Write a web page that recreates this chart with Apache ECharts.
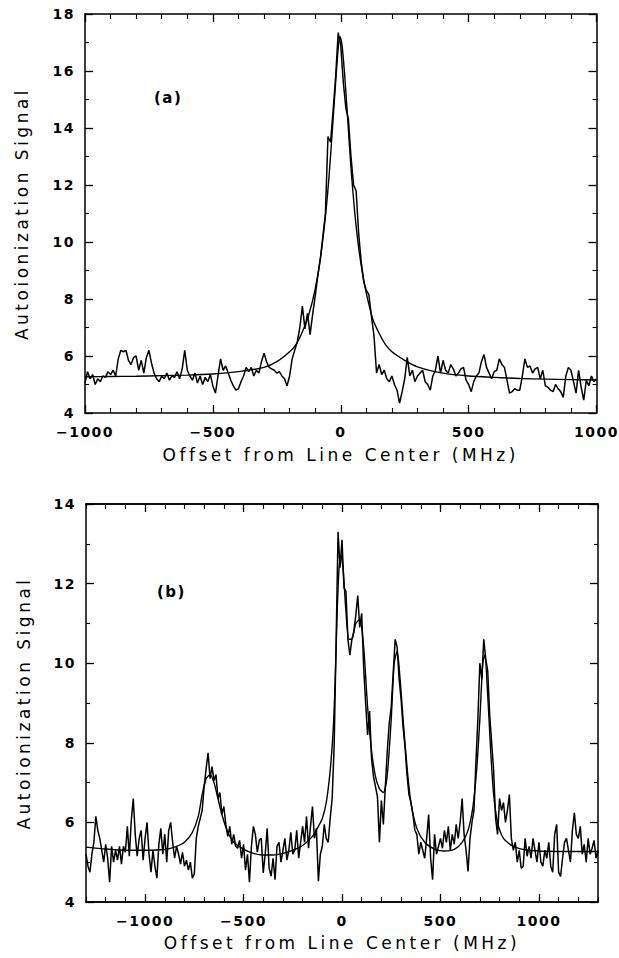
<!DOCTYPE html>
<html>
<head>
<meta charset="utf-8">
<script src="https://cdn.jsdelivr.net/npm/echarts@6/dist/echarts.min.js"></script>
<style>
html,body{margin:0;padding:0;background:#fff;}
#chart{width:619px;height:958px;}
#chart text{letter-spacing:3.5px;}
#chart text[style*="bold"], #chart text[font-weight="bold"]{letter-spacing:1.5px;}
</style>
</head>
<body>
<div id="chart"></div>
<script>
// ---------- Panel (a) ----------
const aXTicks = [-1000, -500, 0, 500, 1000];
const aSignal = [
[-1000,5.05],[-990,5.45],[-980,5.2],[-970,5.35],[-960,5.0],[-950,5.2],[-940,5.1],[-930,5.3],[-920,5.25],[-910,5.45],
[-900,5.35],[-890,5.5],[-880,5.3],[-870,5.9],[-860,6.2],[-850,6.15],[-840,6.2],[-830,5.85],[-820,5.7],[-810,5.95],
[-800,6.0],[-790,5.5],[-780,5.85],[-770,5.4],[-760,5.95],[-750,6.2],[-740,5.75],[-730,5.4],[-720,5.2],[-710,5.1],
[-700,5.3],[-690,5.2],[-680,5.4],[-670,5.15],[-660,5.3],[-650,5.25],[-640,5.45],[-630,5.2],[-620,5.55],[-610,6.2],
[-600,5.5],[-590,5.3],[-580,5.15],[-570,5.4],[-560,5.05],[-550,5.3],[-540,5.0],[-530,5.25],[-520,5.1],[-510,5.35],
[-500,4.95],[-490,4.7],[-480,5.3],[-470,5.9],[-460,5.5],[-450,5.65],[-440,5.4],[-430,5.15],[-420,4.95],[-410,4.8],
[-400,4.85],[-390,5.1],[-380,5.3],[-370,5.6],[-360,5.45],[-350,5.6],[-340,5.3],[-330,5.5],[-320,5.4],[-310,5.8],
[-300,6.1],[-290,5.8],[-280,5.6],[-270,5.55],[-260,5.5],[-250,5.4],[-240,5.45],[-230,5.3],[-220,5.2],[-210,4.95],
[-200,5.3],[-190,5.9],[-180,6.2],[-170,6.5],[-160,7.0],[-150,7.75],[-140,6.95],[-130,7.5],[-120,6.75],[-110,7.45],
[-100,8.1],[-90,8.8],[-80,9.4],[-70,10.2],[-60,11.0],[-50,13.7],[-40,13.5],[-30,14.6],[-20,15.8],[-10,17.35],
[0,16.9],[10,15.6],[20,14.7],[30,14.3],[40,13.0],[50,12.0],[60,11.8],[70,10.3],[80,9.3],[90,8.6],
[100,8.3],[110,8.15],[120,7.4],[130,6.7],[140,5.4],[150,5.7],[160,5.35],[170,5.5],[180,5.2],[190,5.1],
[200,5.3],[210,5.0],[220,4.8],[230,4.35],[240,4.75],[250,5.2],[260,5.95],[270,5.3],[280,5.5],[290,5.1],
[300,5.3],[310,5.4],[320,5.5],[330,5.1],[340,5.0],[350,4.8],[360,5.3],[370,5.5],[380,6.0],[390,5.4],
[400,5.85],[410,5.5],[420,5.4],[430,5.7],[440,5.55],[450,5.3],[460,5.4],[470,5.55],[480,5.6],[490,5.15],
[500,5.0],[510,4.75],[520,5.1],[530,5.3],[540,5.4],[550,5.8],[560,6.05],[570,5.6],[580,5.4],[590,5.2],
[600,5.45],[610,5.5],[620,5.9],[630,5.7],[640,5.6],[650,5.15],[660,4.7],[670,4.75],[680,4.85],[690,4.8],
[700,4.8],[710,5.3],[720,5.9],[730,5.6],[740,5.65],[750,5.4],[760,5.55],[770,5.6],[780,5.2],[790,5.5],
[800,4.95],[810,4.9],[820,4.8],[830,4.75],[840,5.0],[850,4.85],[860,4.75],[870,4.55],[880,5.3],[890,5.6],
[900,5.5],[910,5.1],[920,4.7],[930,5.5],[940,4.9],[950,4.45],[960,5.15],[970,4.95],[980,5.3],[990,5.1],
[1000,5.2]
];
const aFit = [
[-1000,5.27],[-900,5.28],[-800,5.29],[-700,5.31],[-600,5.33],[-500,5.37],[-400,5.45],[-300,5.6],[-250,5.8],
[-200,6.15],[-175,6.4],[-150,6.85],[-125,7.45],[-100,8.35],[-80,9.4],[-60,10.9],[-45,12.4],[-30,14.3],
[-20,15.6],[-10,16.8],[-3,17.2],[5,16.9],[15,15.9],[25,14.6],[40,12.6],[55,11.0],[70,9.8],[85,8.9],
[100,8.2],[125,7.3],[150,6.8],[175,6.4],[200,6.15],[250,5.85],[300,5.62],[400,5.4],[500,5.3],[600,5.25],
[700,5.21],[800,5.19],[900,5.17],[1000,5.16]
];

// ---------- Panel (b) ----------
const bXTicks = [-1000, -500, 0, 500, 1000];
const bSignal = [
[-1300,5.2],[-1290,4.9],[-1280,4.75],[-1270,5.2],[-1260,5.5],[-1250,6.15],[-1240,5.8],[-1230,5.6],[-1220,5.3],[-1210,5.0],
[-1200,5.45],[-1190,5.1],[-1180,4.5],[-1170,5.4],[-1160,5.0],[-1150,5.3],[-1140,5.05],[-1130,5.4],[-1120,4.95],[-1110,5.4],
[-1100,5.25],[-1090,5.9],[-1080,5.15],[-1070,6.05],[-1060,6.6],[-1050,5.7],[-1040,5.15],[-1030,5.6],[-1020,5.8],[-1010,5.05],
[-1000,5.6],[-990,6.0],[-980,5.2],[-970,4.75],[-960,5.3],[-950,4.9],[-940,4.6],[-930,5.45],[-920,5.85],[-910,5.2],
[-900,5.7],[-890,5.0],[-880,5.8],[-870,6.0],[-860,5.5],[-850,5.1],[-840,5.4],[-830,5.2],[-820,4.95],[-810,5.25],
[-800,4.9],[-790,5.05],[-780,4.8],[-770,5.0],[-760,4.6],[-750,4.7],[-740,5.6],[-730,5.9],[-720,6.1],[-710,6.3],
[-700,6.9],[-690,7.35],[-680,7.75],[-670,7.1],[-660,7.4],[-650,7.05],[-640,7.2],[-630,6.6],[-620,6.75],[-610,6.2],
[-600,6.4],[-590,5.95],[-580,5.65],[-570,5.9],[-560,5.45],[-550,5.7],[-540,5.4],[-530,5.35],[-520,5.55],[-510,5.1],
[-500,5.45],[-490,4.8],[-480,5.2],[-470,4.5],[-460,5.4],[-450,5.9],[-440,5.7],[-430,5.25],[-420,5.55],[-410,5.6],
[-400,4.73],[-390,5.2],[-380,5.85],[-370,4.85],[-360,4.65],[-350,5.1],[-340,4.56],[-330,5.4],[-320,5.5],[-310,5.0],
[-300,5.3],[-290,5.6],[-280,5.05],[-270,5.3],[-260,5.75],[-250,5.2],[-240,5.3],[-230,5.8],[-220,5.1],[-210,5.5],
[-200,5.9],[-190,5.5],[-180,6.15],[-170,5.35],[-160,5.9],[-150,6.4],[-140,5.6],[-130,5.85],[-120,4.52],[-110,5.2],
[-100,5.4],[-90,5.95],[-80,5.6],[-70,5.5],[-60,6.1],[-50,6.6],[-40,7.9],[-30,10.5],[-20,13.3],[-10,12.4],
[0,13.1],[10,11.9],[20,11.8],[30,10.6],[40,10.2],[50,10.6],[60,10.8],[70,11.2],[80,11.7],[90,10.9],
[100,11.25],[110,9.9],[120,9.0],[130,8.2],[140,8.8],[150,7.6],[160,7.15],[170,6.9],[180,6.65],[190,5.5],
[200,6.55],[210,5.95],[220,6.9],[230,7.8],[240,8.5],[250,8.9],[260,9.75],[270,10.6],[280,10.4],[290,9.6],
[300,9.1],[310,8.4],[320,7.9],[330,7.2],[340,6.7],[350,6.5],[360,6.2],[370,5.8],[380,5.7],[390,5.2],
[400,5.5],[410,5.3],[420,5.1],[430,5.6],[440,6.2],[450,5.1],[460,4.56],[470,5.7],[480,5.2],[490,5.4],
[500,5.6],[510,5.35],[520,5.8],[530,5.5],[540,5.9],[550,5.3],[560,5.7],[570,5.45],[580,5.95],[590,5.6],
[600,6.0],[610,6.6],[620,5.7],[630,5.3],[640,4.77],[650,5.6],[660,6.0],[670,6.3],[680,7.5],[690,8.6],
[700,10.0],[710,9.6],[720,10.6],[730,10.1],[740,9.8],[750,8.7],[760,8.0],[770,7.3],[780,6.1],[790,5.7],
[800,6.6],[810,6.3],[820,6.5],[830,6.0],[840,6.3],[850,6.7],[860,5.6],[870,5.3],[880,5.5],[890,5.0],
[900,5.3],[910,4.85],[920,4.9],[930,5.6],[940,5.15],[950,5.4],[960,5.1],[970,5.6],[980,5.3],[990,5.0],
[1000,5.5],[1010,5.0],[1020,4.9],[1030,5.3],[1040,5.1],[1050,5.5],[1060,4.9],[1070,4.75],[1080,5.7],[1090,5.95],
[1100,4.75],[1110,4.64],[1120,5.1],[1130,5.5],[1140,5.6],[1150,5.3],[1160,5.0],[1170,5.8],[1180,6.24],[1190,5.7],
[1200,5.6],[1210,5.9],[1220,5.2],[1230,5.45],[1240,5.0],[1250,5.6],[1260,5.2],[1270,5.35],[1280,5.55],[1290,5.1],
[1300,5.3]
];
const bFit = [
[-1300,5.38],[-1200,5.33],[-1100,5.3],[-1000,5.3],[-900,5.32],[-850,5.38],[-800,5.5],[-760,5.75],[-730,6.15],
[-710,6.7],[-690,7.1],[-670,7.2],[-650,7.0],[-630,6.6],[-610,6.2],[-580,5.75],[-550,5.5],[-500,5.33],[-450,5.22],
[-400,5.18],[-350,5.18],[-300,5.22],[-250,5.3],[-200,5.42],[-150,5.65],[-120,5.9],[-100,6.1],[-80,6.5],[-60,7.3],
[-45,8.3],[-35,9.5],[-25,11.2],[-15,12.4],[-5,12.7],[5,12.4],[20,11.3],[35,10.6],[50,10.6],[70,11.0],[90,11.1],
[110,10.4],[130,8.9],[150,7.8],[170,7.15],[190,6.85],[210,6.75],[230,7.2],[250,8.6],[265,10.0],[280,10.3],
[295,9.6],[310,8.6],[330,7.4],[350,6.5],[380,5.85],[420,5.5],[470,5.33],[520,5.28],[570,5.32],[610,5.5],
[640,5.8],[665,6.4],[685,7.4],[700,8.6],[715,10.0],[725,10.2],[740,9.2],[755,7.8],[770,6.7],[790,6.0],
[820,5.6],[870,5.4],[950,5.3],[1100,5.27],[1300,5.27]
];

const xTitle = 'Offset from Line Center (MHz)';
const yTitle = 'Autoionization Signal';
const panelLabels = ['(a)', '(b)'];

const FONT = 'DejaVu Sans';
const fmt = v => (v < 0 ? '\u2212' + Math.abs(v) : String(v));
const lineStyle = { color: '#000', width: 1.5 };
const tickLabel = { color: '#000', fontFamily: FONT, fontSize: 14, fontWeight: 'bold' };
const nameStyle = { color: '#000', fontFamily: FONT, fontSize: 17, fontWeight: 'normal' };

function xAxisBase(grid, min, max, pos) {
  return {
    type: 'value', gridIndex: grid, min: min, max: max, position: pos,
    axisLine: { show: true, onZero: false, lineStyle: lineStyle },
    splitLine: { show: false }
  };
}

const chart = echarts.init(document.getElementById('chart'), null, { renderer: 'svg' });
chart.setOption({
  animation: false,
  backgroundColor: '#fff',
  grid: [
    { left: 85, top: 14, width: 513, height: 399 },
    { left: 86, top: 504, width: 512, height: 398 }
  ],
  xAxis: [
    Object.assign(xAxisBase(0, -1000, 1000, 'bottom'), {
      interval: 500,
      axisTick: { show: true, inside: true, length: 8, lineStyle: { color: '#000', width: 1.3 } },
      minorTick: { show: true, splitNumber: 5, length: 5, lineStyle: { color: '#000', width: 1.1 } },
      axisLabel: Object.assign({ margin: 12, formatter: fmt }, tickLabel),
      name: xTitle, nameLocation: 'middle', nameGap: 33, nameTextStyle: nameStyle
    }),
    Object.assign(xAxisBase(0, -1000, 1000, 'top'), {
      interval: 500,
      axisTick: { show: true, inside: true, length: 8, lineStyle: { color: '#000', width: 1.3 } },
      minorTick: { show: true, splitNumber: 5, length: 5, lineStyle: { color: '#000', width: 1.1 } },
      axisLabel: { show: false }
    }),
    Object.assign(xAxisBase(1, -1300, 1300, 'bottom'), {
      interval: 100,
      axisTick: { show: true, inside: true, length: 5, lineStyle: { color: '#000', width: 1.1 } },
      axisLabel: { show: false }
    }),
    Object.assign(xAxisBase(1, -1300, 1300, 'bottom'), {
      interval: 100,
      axisTick: { show: true, inside: true, length: 8, customValues: bXTicks, lineStyle: { color: '#000', width: 1.3 } },
      axisLabel: Object.assign({ margin: 12, formatter: fmt, customValues: bXTicks }, tickLabel),
      name: xTitle, nameLocation: 'middle', nameGap: 32, nameTextStyle: nameStyle
    }),
    Object.assign(xAxisBase(1, -1300, 1300, 'top'), {
      interval: 100,
      axisTick: { show: true, inside: true, length: 5, lineStyle: { color: '#000', width: 1.1 } },
      axisLabel: { show: false }
    }),
    Object.assign(xAxisBase(1, -1300, 1300, 'top'), {
      interval: 100,
      axisTick: { show: true, inside: true, length: 8, customValues: bXTicks, lineStyle: { color: '#000', width: 1.3 } },
      axisLabel: { show: false }
    })
  ],
  yAxis: [
    {
      type: 'value', gridIndex: 0, min: 4, max: 18, interval: 2, position: 'left',
      axisLine: { show: true, onZero: false, lineStyle: lineStyle },
      axisTick: { show: true, inside: true, length: 8, lineStyle: { color: '#000', width: 1.3 } },
      minorTick: { show: true, splitNumber: 2, length: 4, lineStyle: { color: '#000', width: 1.1 } },
      splitLine: { show: false },
      axisLabel: Object.assign({ margin: 10 }, tickLabel),
      name: yTitle, nameLocation: 'middle', nameGap: 55, nameRotate: 90, nameTextStyle: nameStyle
    },
    {
      type: 'value', gridIndex: 0, min: 4, max: 18, interval: 2, position: 'right',
      axisLine: { show: true, onZero: false, lineStyle: lineStyle },
      axisTick: { show: true, inside: true, length: 8, lineStyle: { color: '#000', width: 1.3 } },
      minorTick: { show: true, splitNumber: 2, length: 4, lineStyle: { color: '#000', width: 1.1 } },
      splitLine: { show: false },
      axisLabel: { show: false }
    },
    {
      type: 'value', gridIndex: 1, min: 4, max: 14, interval: 2, position: 'left',
      axisLine: { show: true, onZero: false, lineStyle: lineStyle },
      axisTick: { show: true, inside: true, length: 8, lineStyle: { color: '#000', width: 1.3 } },
      minorTick: { show: true, splitNumber: 2, length: 4, lineStyle: { color: '#000', width: 1.1 } },
      splitLine: { show: false },
      axisLabel: Object.assign({ margin: 10 }, tickLabel),
      name: yTitle, nameLocation: 'middle', nameGap: 54, nameRotate: 90, nameTextStyle: nameStyle
    },
    {
      type: 'value', gridIndex: 1, min: 4, max: 14, interval: 2, position: 'right',
      axisLine: { show: true, onZero: false, lineStyle: lineStyle },
      axisTick: { show: true, inside: true, length: 8, lineStyle: { color: '#000', width: 1.3 } },
      minorTick: { show: true, splitNumber: 2, length: 4, lineStyle: { color: '#000', width: 1.1 } },
      splitLine: { show: false },
      axisLabel: { show: false }
    }
  ],
  graphic: [
    { type: 'text', left: 154, top: 90, style: { text: panelLabels[0], fill: '#000', font: 'bold 15px "DejaVu Sans"' } },
    { type: 'text', left: 157, top: 584, style: { text: panelLabels[1], fill: '#000', font: 'bold 15px "DejaVu Sans"' } }
  ],
  series: [
    { type: 'line', xAxisIndex: 0, yAxisIndex: 0, data: aSignal, showSymbol: false, lineStyle: { color: '#000', width: 1.5 }, z: 3 },
    { type: 'line', xAxisIndex: 0, yAxisIndex: 0, data: aFit, showSymbol: false, smooth: 0.25, lineStyle: { color: '#000', width: 1.4 }, z: 4 },
    { type: 'line', xAxisIndex: 3, yAxisIndex: 2, data: bSignal, showSymbol: false, lineStyle: { color: '#000', width: 1.5 }, z: 3 },
    { type: 'line', xAxisIndex: 3, yAxisIndex: 2, data: bFit, showSymbol: false, smooth: 0.25, lineStyle: { color: '#000', width: 1.4 }, z: 4 }
  ]
});
</script>
</body>
</html>
